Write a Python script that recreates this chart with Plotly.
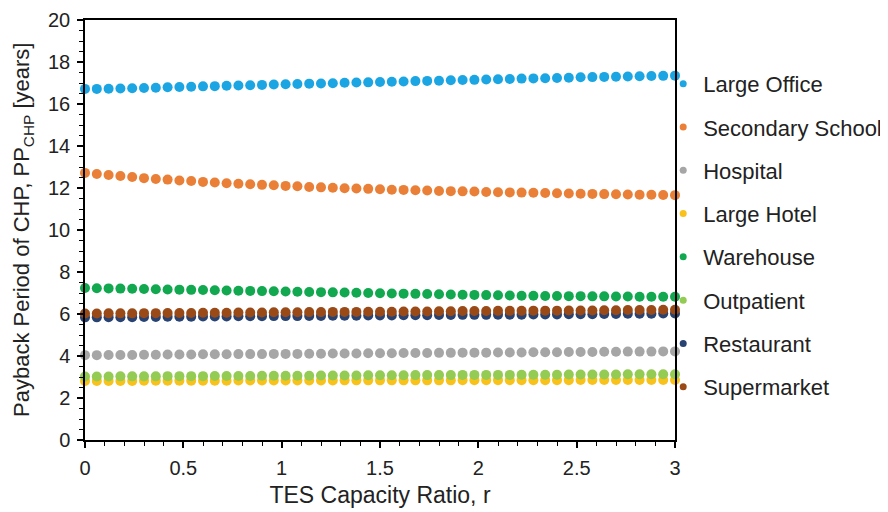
import plotly.graph_objects as go

r = [0.0, 0.06, 0.12, 0.18, 0.24, 0.3, 0.36, 0.42, 0.48, 0.54,
     0.6, 0.66, 0.72, 0.78, 0.84, 0.9, 0.96, 1.02, 1.08, 1.14,
     1.2, 1.26, 1.32, 1.38, 1.44, 1.5, 1.56, 1.62, 1.68, 1.74,
     1.8, 1.86, 1.92, 1.98, 2.04, 2.1, 2.16, 2.22, 2.28, 2.34,
     2.4, 2.46, 2.52, 2.58, 2.64, 2.7, 2.76, 2.82, 2.88, 2.94, 3.0]

large_office = [16.72, 16.72, 16.73, 16.74, 16.75, 16.76, 16.77, 16.80, 16.81, 16.82,
                16.84, 16.85, 16.87, 16.88, 16.89, 16.91, 16.93, 16.94, 16.95, 16.97,
                16.98, 16.99, 17.01, 17.02, 17.03, 17.05, 17.06, 17.07, 17.09, 17.10,
                17.11, 17.13, 17.14, 17.15, 17.17, 17.18, 17.19, 17.21, 17.22, 17.23,
                17.24, 17.25, 17.27, 17.28, 17.29, 17.30, 17.31, 17.32, 17.33, 17.34, 17.35]

secondary_school = [12.72, 12.67, 12.62, 12.57, 12.52, 12.47, 12.43, 12.40, 12.36, 12.33,
                    12.29, 12.26, 12.23, 12.20, 12.18, 12.15, 12.13, 12.10, 12.08, 12.05,
                    12.03, 12.01, 11.99, 11.98, 11.96, 11.94, 11.92, 11.91, 11.89, 11.88,
                    11.86, 11.85, 11.84, 11.83, 11.81, 11.80, 11.79, 11.78, 11.77, 11.76,
                    11.75, 11.74, 11.73, 11.72, 11.71, 11.70, 11.69, 11.68, 11.68, 11.67, 11.66]

hospital = [4.04, 4.04, 4.05, 4.05, 4.05, 4.06, 4.06, 4.07, 4.07, 4.07,
            4.08, 4.08, 4.08, 4.09, 4.09, 4.09, 4.10, 4.10, 4.10, 4.11,
            4.11, 4.12, 4.12, 4.12, 4.13, 4.13, 4.13, 4.14, 4.14, 4.14,
            4.15, 4.15, 4.16, 4.16, 4.16, 4.17, 4.17, 4.17, 4.18, 4.18,
            4.18, 4.19, 4.19, 4.19, 4.20, 4.20, 4.21, 4.21, 4.21, 4.22, 4.22]

large_hotel = [2.81, 2.81, 2.81, 2.81, 2.81, 2.82, 2.82, 2.82, 2.82, 2.82,
               2.82, 2.82, 2.82, 2.83, 2.83, 2.83, 2.83, 2.83, 2.83, 2.83,
               2.83, 2.83, 2.84, 2.84, 2.84, 2.84, 2.84, 2.84, 2.84, 2.84,
               2.84, 2.84, 2.85, 2.85, 2.85, 2.85, 2.85, 2.85, 2.85, 2.85,
               2.85, 2.85, 2.86, 2.86, 2.86, 2.86, 2.86, 2.86, 2.86, 2.86, 2.86]

warehouse = [7.24, 7.23, 7.22, 7.21, 7.20, 7.19, 7.18, 7.17, 7.16, 7.15,
             7.14, 7.13, 7.12, 7.11, 7.10, 7.09, 7.08, 7.07, 7.06, 7.05,
             7.04, 7.03, 7.02, 7.01, 7.00, 6.99, 6.98, 6.97, 6.96, 6.95,
             6.94, 6.93, 6.92, 6.91, 6.90, 6.89, 6.88, 6.87, 6.87, 6.86,
             6.86, 6.85, 6.85, 6.84, 6.84, 6.83, 6.83, 6.82, 6.82, 6.82, 6.82]

outpatient = [3.02, 3.02, 3.02, 3.03, 3.03, 3.03, 3.03, 3.04, 3.04, 3.04,
              3.04, 3.05, 3.05, 3.05, 3.05, 3.06, 3.06, 3.06, 3.06, 3.06,
              3.07, 3.07, 3.07, 3.07, 3.08, 3.08, 3.08, 3.08, 3.09, 3.09,
              3.09, 3.09, 3.10, 3.10, 3.10, 3.10, 3.10, 3.11, 3.11, 3.11,
              3.11, 3.12, 3.12, 3.12, 3.12, 3.12, 3.13, 3.13, 3.13, 3.13, 3.13]

restaurant = [5.84, 5.84, 5.85, 5.85, 5.85, 5.86, 5.86, 5.87, 5.87, 5.87,
              5.88, 5.88, 5.88, 5.89, 5.89, 5.89, 5.90, 5.90, 5.90, 5.91,
              5.91, 5.92, 5.92, 5.92, 5.93, 5.93, 5.93, 5.94, 5.94, 5.94,
              5.95, 5.95, 5.96, 5.96, 5.96, 5.97, 5.97, 5.97, 5.98, 5.98,
              5.98, 5.99, 5.99, 5.99, 6.00, 6.00, 6.01, 6.01, 6.01, 6.02, 6.02]

supermarket = [6.02, 6.02, 6.03, 6.03, 6.03, 6.04, 6.04, 6.05, 6.05, 6.05,
               6.06, 6.06, 6.06, 6.07, 6.07, 6.07, 6.08, 6.08, 6.08, 6.09,
               6.09, 6.10, 6.10, 6.10, 6.11, 6.11, 6.11, 6.12, 6.12, 6.12,
               6.13, 6.13, 6.14, 6.14, 6.14, 6.15, 6.15, 6.15, 6.16, 6.16,
               6.16, 6.17, 6.17, 6.17, 6.18, 6.18, 6.19, 6.19, 6.19, 6.20, 6.20]

names = ["Large Office", "Secondary School", "Hospital", "Large Hotel",
         "Warehouse", "Outpatient", "Restaurant", "Supermarket"]
series = [large_office, secondary_school, hospital, large_hotel,
          warehouse, outpatient, restaurant, supermarket]
colors = ["#1BA6E3", "#EA8038", "#A6A6A6", "#F9C21A",
          "#12A84F", "#93CB53", "#284272", "#9A4A17"]

x_ticks = [0, 0.5, 1, 1.5, 2, 2.5, 3]
x_tick_labels = ["0", "0.5", "1", "1.5", "2", "2.5", "3"]
y_ticks = [0, 2, 4, 6, 8, 10, 12, 14, 16, 18, 20]

FONT = "Liberation Sans, Arial, sans-serif"

fig = go.Figure()
for name, vals, col in zip(names, series, colors):
    fig.add_trace(go.Scatter(
        x=r, y=vals, mode="markers", name=name,
        marker=dict(color=col, size=10, line=dict(width=0)),
        showlegend=False, cliponaxis=False,
    ))
# legend entries (smaller markers like the reference)
for name, col in zip(names, colors):
    fig.add_trace(go.Scatter(
        x=[None], y=[None], mode="markers", name=name, legendgroup=name,
        marker=dict(color=col, size=7),
    ))

# page body has an 8px margin, so the figure is 8px smaller and margins shifted
fig.update_layout(
    width=880, height=504,
    margin=dict(l=77, r=213, t=12, b=72, autoexpand=False),
    paper_bgcolor="white", plot_bgcolor="white",
    font=dict(family=FONT, size=20, color="#222222"),
    legend=dict(
        x=0.98, xanchor="left", y=0.898, yanchor="top",
        font=dict(family=FONT, size=22, color="#222222"),
        tracegroupgap=11.7, bgcolor="rgba(0,0,0,0)",
        itemwidth=30,
    ),
    xaxis=dict(
        range=[0, 3], tickvals=x_ticks, ticktext=x_tick_labels,
        showgrid=False, zeroline=False, automargin=False,
        showline=True, linecolor="black", linewidth=1.5, mirror=True,
        ticks="outside", ticklen=6, tickwidth=1.5, tickcolor="black",
        minor=dict(dtick=0.1, ticks="outside", ticklen=4, tickwidth=1.2, tickcolor="black"),
        tickfont=dict(size=20), ticklabelstandoff=3,
        title=dict(text="TES Capacity Ratio, r", font=dict(size=23), standoff=9),
    ),
    yaxis=dict(
        range=[0, 20], tickvals=y_ticks,
        showgrid=False, zeroline=False, automargin=False,
        showline=True, linecolor="black", linewidth=1.5, mirror=True,
        ticks="outside", ticklen=6, tickwidth=1.5, tickcolor="black",
        minor=dict(dtick=0.5, ticks="outside", ticklen=4, tickwidth=1.2, tickcolor="black"),
        tickfont=dict(size=20), ticklabelstandoff=3,
    ),
    annotations=[dict(
        text="Payback Period of CHP, PP<sub>CHP</sub> [years]",
        xref="paper", yref="paper", x=-62 / 590, y=0.5,
        xanchor="center", yanchor="middle", textangle=-90, showarrow=False,
        font=dict(family=FONT, size=22, color="#222222"),
    )],
)

fig.write_html("out.html")
